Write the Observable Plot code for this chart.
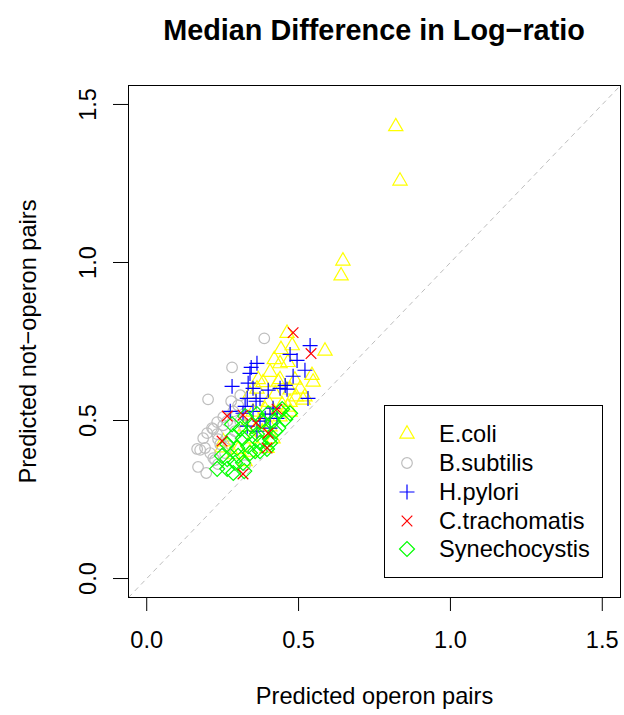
<!DOCTYPE html>
<html><head><meta charset="utf-8">
<script src="https://cdn.jsdelivr.net/npm/d3@7"></script>
<script src="https://cdn.jsdelivr.net/npm/@observablehq/plot@0.6"></script>
<style>
body{margin:0;background:#fff;font-family:"Liberation Sans",Arial,Helvetica,sans-serif;}
#wrap{position:relative;width:624px;height:715px;overflow:hidden;}
#title{position:absolute;left:124px;width:500px;top:16px;text-align:center;font-weight:bold;font-size:28.8px;line-height:28px;color:#000;}
#chart{position:absolute;left:0;top:60px;}
#legend{position:absolute;left:384px;top:405px;width:217px;height:171px;border:1px solid #000;background:#fff;}
.row{position:absolute;left:0;width:217px;height:28px;font-size:23.6px;line-height:28px;color:#000;}
.row svg{position:absolute;left:12px;top:4px;}
.row span{position:absolute;left:54px;top:0;white-space:nowrap;}
</style></head>
<body>
<div id="wrap">
  <div id="title"></div>
  <div id="chart"></div>
  <div id="legend"></div>
</div>
<script>
// ---- data ----
const titleText = "Median Difference in Log\u2212ratio";
const xLabel = "Predicted operon pairs";
const yLabel = "Predicted not\u2212operon pairs";
const seriesNames = ["E.coli","B.subtilis","H.pylori","C.trachomatis","Synechocystis"];
const seriesColors = ["#FFFF00","#BEBEBE","#0000FF","#FF0000","#00FF00"];
const xTicks = [0, 0.5, 1, 1.5];
const yTicks = [0, 0.5, 1, 1.5];

const ecoliX = [0.820,0.834,0.646,0.640,0.587,0.462,0.479,0.442,0.439,0.465,0.406,0.383,0.363,0.439,0.488,0.544,0.505,0.521,0.472,0.423,0.400,0.446,0.472,0.390,0.350,0.340,0.492,0.465,0.472,0.548,0.515,0.433,0.324,0.373,0.406,0.347,0.301,0.285,0.324,0.396,0.416,0.252,0.248,0.439,0.380,0.340,0.420,0.367];
const ecoliY = [1.430,1.258,1.005,0.958,0.720,0.776,0.737,0.725,0.680,0.684,0.653,0.620,0.600,0.630,0.628,0.643,0.600,0.575,0.597,0.584,0.558,0.550,0.558,0.534,0.527,0.584,0.575,0.543,0.527,0.622,0.565,0.622,0.480,0.496,0.480,0.442,0.408,0.392,0.370,0.412,0.442,0.433,0.414,0.512,0.464,0.400,0.693,0.630];

const bsubX = [0.387,0.281,0.202,0.278,0.308,0.301,0.285,0.252,0.232,0.215,0.199,0.186,0.232,0.192,0.176,0.209,0.169,0.196,0.235,0.219,0.252,0.265,0.242,0.275,0.219,0.235,0.258,0.225,0.324,0.268,0.291,0.308,0.166,0.294];
const bsubY = [0.760,0.668,0.567,0.561,0.580,0.548,0.529,0.511,0.495,0.476,0.460,0.444,0.457,0.413,0.407,0.397,0.353,0.334,0.362,0.381,0.485,0.498,0.425,0.441,0.473,0.441,0.397,0.375,0.359,0.419,0.466,0.498,0.410,0.514];

const hpylX = [0.538,0.472,0.495,0.363,0.344,0.340,0.521,0.482,0.281,0.334,0.350,0.400,0.456,0.462,0.531,0.373,0.331,0.324,0.275,0.416,0.350,0.317,0.390,0.429,0.373,0.406,0.331,0.363,0.406,0.439,0.360];
const hpylY = [0.737,0.709,0.690,0.681,0.668,0.649,0.659,0.640,0.608,0.618,0.602,0.596,0.611,0.599,0.570,0.570,0.570,0.545,0.529,0.539,0.529,0.523,0.507,0.507,0.498,0.520,0.482,0.466,0.476,0.602,0.561];

const ctraX = [0.482,0.541,0.265,0.317,0.248,0.317,0.429,0.396,0.400,0.360];
const ctraY = [0.778,0.712,0.514,0.517,0.435,0.331,0.536,0.413,0.460,0.492];

const synX = [0.324,0.281,0.285,0.363,0.400,0.439,0.416,0.317,0.265,0.298,0.334,0.373,0.406,0.423,0.265,0.301,0.340,0.232,0.265,0.285,0.357,0.317,0.390,0.363,0.446,0.433,0.406,0.373,0.472,0.347,0.308,0.380,0.456,0.334,0.291,0.248,0.396,0.321];
const synY = [0.514,0.488,0.451,0.520,0.523,0.529,0.498,0.444,0.425,0.413,0.419,0.429,0.441,0.466,0.378,0.388,0.397,0.347,0.347,0.334,0.403,0.366,0.466,0.457,0.536,0.476,0.429,0.403,0.523,0.482,0.473,0.498,0.504,0.460,0.366,0.388,0.410,0.340];

const domain = [-0.06, 1.56];

// ---- R-like symbols ----
const R2 = Math.SQRT2;
const symTriangle = {draw(c, size){const s=Math.sqrt(size/Math.PI);c.moveTo(0,-1.5551*s);c.lineTo(1.3468*s,0.7776*s);c.lineTo(-1.3468*s,0.7776*s);c.closePath();}};
const symCircle = {draw(c, size){const s=Math.sqrt(size/Math.PI);c.moveTo(s,0);c.arc(0,0,s,0,2*Math.PI);}};
const symPlus = {draw(c, size){const s=Math.sqrt(size/Math.PI)*R2;c.moveTo(-s,0);c.lineTo(s,0);c.moveTo(0,-s);c.lineTo(0,s);}};
const symTimes = {draw(c, size){const s=Math.sqrt(size/Math.PI);c.moveTo(-s,-s);c.lineTo(s,s);c.moveTo(-s,s);c.lineTo(s,-s);}};
const symDiamond = {draw(c, size){const s=Math.sqrt(size/Math.PI)*R2;c.moveTo(s,0);c.lineTo(0,s);c.lineTo(-s,0);c.lineTo(0,-s);c.closePath();}};
const seriesSymbols = [symTriangle, symCircle, symPlus, symTimes, symDiamond];

const seriesXY = [[ecoliX,ecoliY],[bsubX,bsubY],[hpylX,hpylY],[ctraX,ctraY],[synX,synY]];
const R = 5.3;
const SW = 1.2;

function rows(i){ const [xs,ys]=seriesXY[i]; return xs.map((x,j)=>({x, y: ys[j], s: seriesNames[i]})); }

// draw order: E.coli, B.subtilis, H.pylori, Synechocystis, C.trachomatis
const order = [0,1,2,4,3];
const dotMarks = order.map(i => Plot.dot(rows(i), {x:"x", y:"y", r:R, symbol: seriesSymbols[i], stroke: seriesColors[i], fill:"none", strokeWidth: SW}));

const font = '"Liberation Sans", Arial, Helvetica, sans-serif';
const fmt = d => d.toFixed(1);
const FS = 23.6;

const chart = Plot.plot({
  width: 624, height: 655,
  marginLeft: 128, marginRight: 4, marginTop: 25, marginBottom: 118,
  x: {domain, label: null},
  y: {domain, label: null},
  style: {fontFamily: font, fontSize: FS + "px", color: "#000", background: "#fff", overflow: "visible"},
  marks: [
    Plot.link([domain], {x1: d=>d[0], y1: d=>d[0], x2: d=>d[1], y2: d=>d[1], stroke:"#BEBEBE", strokeWidth:1, strokeDasharray:"5,4", clip:true}),
    ...dotMarks,
    Plot.frame({stroke:"#000", strokeWidth:1}),
    Plot.axisX(xTicks, {tickSize:14, tickPadding:20, tickFormat: fmt, label: null, fontSize: FS}),
    Plot.axisY(yTicks, {tickSize:15, tickPadding:18, tickRotate:-90, tickFormat: fmt, label: null, fontSize: FS}),
    Plot.text([xLabel], {text: d=>d, frameAnchor:"bottom", textAnchor:"middle", lineAnchor:"bottom", dy:106, fontSize:FS, fill:"#000"}),
    Plot.text([yLabel], {text: d=>d, frameAnchor:"left", textAnchor:"middle", lineAnchor:"bottom", rotate:-90, dx:-93, fontSize:FS, fill:"#000"})
  ]
});
document.getElementById("chart").appendChild(chart);
document.getElementById("title").textContent = titleText;

// ---- legend ----
const legend = d3.select("#legend");
const rowCenters = [28, 57, 86, 115, 143];
seriesNames.forEach((name, i) => {
  const row = legend.append("div").attr("class","row").style("top", (rowCenters[i]-14)+"px");
  const svg = row.append("svg").attr("width",20).attr("height",20);
  svg.append("path")
    .attr("transform","translate(10,10)")
    .attr("d", d3.symbol(seriesSymbols[i], R*R*Math.PI)())
    .attr("fill","none").attr("stroke", seriesColors[i]).attr("stroke-width", SW);
  row.append("span").text(name);
});
</script>
</body></html>
